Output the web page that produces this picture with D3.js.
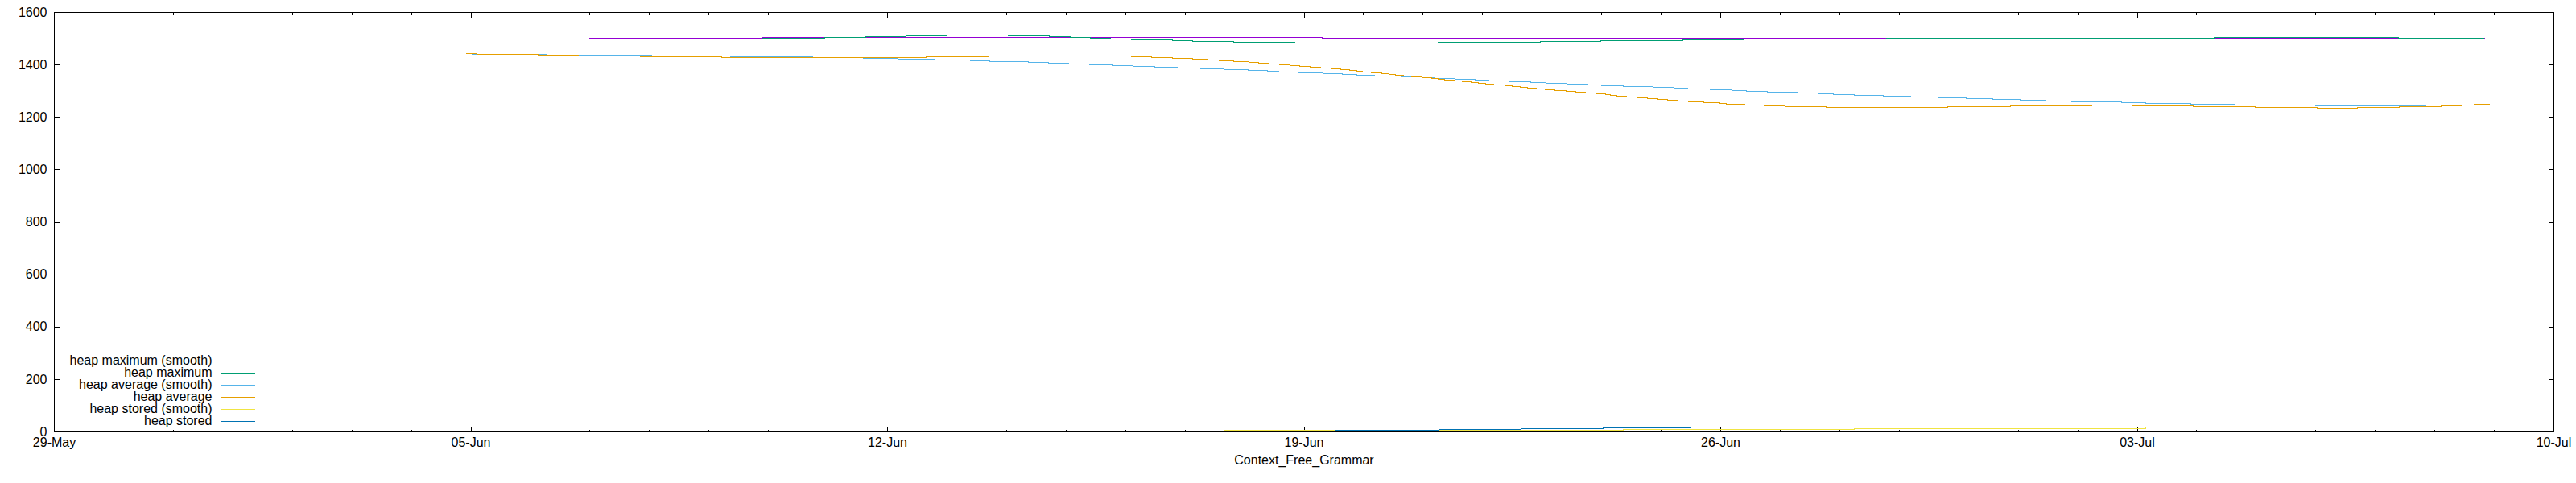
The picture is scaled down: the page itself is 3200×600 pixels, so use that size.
<!DOCTYPE html>
<html>
<head>
<meta charset="utf-8">
<script src="https://cdn.jsdelivr.net/npm/d3@7"></script>
<style>
  body { margin: 0; background: #fff; }
  svg { display: block; }
  text { font-family: "Liberation Sans", Arial, sans-serif; font-size: 16px; fill: #000; }
</style>
</head>
<body>
<svg id="chart" width="3200" height="600"></svg>
<script>
// ---------------- data ----------------
const chartTitle = "Context_Free_Grammar";
const startDate = "2020-05-29";            // day 0 of the x values below
const xTickDates = ["2020-05-29", "2020-06-05", "2020-06-12", "2020-06-19", "2020-06-26", "2020-07-03", "2020-07-10"];
const yTicks = [0, 200, 400, 600, 800, 1000, 1200, 1400, 1600];

const seriesNames = ["heap maximum (smooth)", "heap maximum", "heap average (smooth)", "heap average", "heap stored (smooth)", "heap stored"];
const seriesColors = ["#9400d3", "#009e73", "#56b4e9", "#e69f00", "#f0e442", "#0072b2"];

// [days since startDate, value]
const heapMaximumSmooth = [[6.92,1498.7],[8.99,1501.7],[11.91,1504.8],[21.30,1501.7],[40.85,1501.7]];

const heapMaximum = [[6.92,1498.7],[11.91,1501.7],[12.94,1504.8],[13.63,1507.9],[14.31,1510.9],[15.00,1514.0],
  [16.03,1510.9],[16.72,1507.9],[17.07,1504.8],[17.41,1501.7],[17.75,1498.7],[18.10,1495.6],[18.79,1492.5],
  [19.12,1489.4],[19.81,1486.4],[20.84,1483.3],[23.25,1486.4],[24.97,1489.4],[25.99,1492.5],[27.36,1495.6],
  [28.38,1498.7],[30.79,1501.7],[36.29,1504.8],[39.39,1501.7],[40.82,1498.7],[40.97,1498.7]];

const heapAverageSmooth = [[7.02,1440.3],[8.26,1437.2],[10.04,1434.2],[11.36,1431.1],[12.74,1428.0],[13.60,1424.9],
  [14.18,1421.9],[14.78,1418.8],[15.39,1415.7],[15.72,1412.7],[16.37,1409.6],[16.71,1406.5],[17.04,1403.5],
  [17.40,1400.4],[17.77,1397.3],[18.13,1394.2],[18.49,1391.2],[18.87,1388.1],[19.26,1385.0],[19.65,1382.0],
  [20.06,1378.9],[20.38,1375.8],[20.58,1372.7],[20.90,1369.7],[21.32,1366.6],[21.64,1363.5],[21.89,1360.5],
  [22.19,1357.4],[22.63,1354.3],[22.98,1351.2],[23.20,1348.2],[23.54,1345.1],[23.88,1342.0],[24.11,1339.0],
  [24.46,1335.9],[24.81,1332.8],[25.07,1329.8],[25.41,1326.7],[25.77,1323.6],[26.00,1320.5],[26.37,1317.5],
  [26.86,1314.4],[27.21,1311.3],[27.45,1308.3],[27.82,1305.2],[28.19,1302.1],[28.43,1299.0],[28.79,1296.0],
  [29.28,1292.9],[29.65,1289.8],[29.89,1286.8],[30.24,1283.7],[30.73,1280.6],[31.19,1277.5],[31.66,1274.5],
  [32.13,1271.4],[32.57,1268.3],[33.03,1265.3],[33.46,1262.2],[33.90,1259.1],[34.74,1256.0],[35.14,1253.0],
  [35.90,1249.9],[36.65,1246.8],[37.99,1243.8],[39.85,1246.8],[40.66,1249.9],[40.92,1249.9]];

const heapAverage = [[6.92,1443.4],[7.10,1440.3],[8.13,1437.2],[8.80,1434.2],[9.85,1431.1],[11.22,1428.0],
  [14.65,1431.1],[15.69,1434.2],[18.10,1431.1],[18.44,1428.0],[18.79,1424.9],[19.12,1421.9],[19.39,1418.8],
  [19.57,1415.7],[19.81,1412.7],[20.07,1409.6],[20.24,1406.5],[20.41,1403.5],[20.59,1400.4],[20.76,1397.3],
  [20.93,1394.2],[21.10,1391.2],[21.28,1388.1],[21.45,1385.0],[21.62,1382.0],[21.77,1378.9],[21.88,1375.8],
  [21.98,1372.7],[22.13,1369.7],[22.30,1366.6],[22.43,1363.5],[22.53,1360.5],[22.67,1357.4],[22.81,1354.3],
  [22.98,1351.2],[23.14,1348.2],[23.25,1345.1],[23.36,1342.0],[23.52,1339.0],[23.66,1335.9],[23.81,1332.8],
  [23.93,1329.8],[24.05,1326.7],[24.19,1323.6],[24.37,1320.5],[24.50,1317.5],[24.63,1314.4],[24.75,1311.3],
  [24.90,1308.3],[25.05,1305.2],[25.22,1302.1],[25.40,1299.0],[25.56,1296.0],[25.73,1292.9],[25.91,1289.8],
  [26.06,1286.8],[26.15,1283.7],[26.25,1280.6],[26.42,1277.5],[26.60,1274.5],[26.77,1271.4],[26.94,1268.3],
  [27.11,1265.3],[27.27,1262.2],[27.46,1259.1],[27.71,1256.0],[27.99,1253.0],[28.10,1249.9],[28.40,1246.8],
  [28.73,1243.8],[29.08,1240.7],[29.77,1237.6],[31.82,1240.7],[32.87,1243.8],[34.23,1246.8],[34.92,1243.8],
  [35.94,1240.7],[36.98,1237.6],[38.02,1234.5],[38.70,1237.6],[39.40,1240.7],[40.10,1243.8],[40.44,1246.8],
  [40.66,1249.9],[40.92,1249.9]];

const heapStoredSmooth = [[15.39,3.1],[19.67,6.1],[26.37,9.2],[30.25,12.3],[35.14,18.4],[40.92,18.4]];

const heapStored = [[19.82,3.1],[21.54,6.1],[23.27,9.2],[24.64,12.3],[26.02,15.4],[27.50,18.4],[40.92,18.4]];

const seriesData = [heapMaximumSmooth, heapMaximum, heapAverageSmooth, heapAverage, heapStoredSmooth, heapStored];

// ---------------- drawing ----------------
const parseDate = d3.utcParse("%Y-%m-%d");
const t0 = parseDate(startDate).getTime();
const toDate = d => new Date(t0 + d * 864e5);

const svg = d3.select("#chart");
const x = d3.scaleUtc()
  .domain([parseDate(xTickDates[0]), parseDate(xTickDates[xTickDates.length - 1])])
  .range([67.5, 3172.5]);
const y = d3.scaleLinear().domain([0, 1600]).range([536.5, 15.5]);

const majorDates = xTickDates.map(parseDate);
const minorDates = d3.utcDay.range(x.domain()[0], d3.utcDay.offset(x.domain()[1], 1));
const fmt = d3.utcFormat("%d-%b");

function styleAxis(g) {
  g.attr("font-size", 16).attr("font-family", "Liberation Sans, Arial, sans-serif");
  g.select(".domain").remove();
  g.selectAll("line").attr("shape-rendering", "crispEdges");
  g.selectAll("text").attr("fill", "#000");
}

const axes = svg.append("g");
// bottom
axes.append("g").attr("transform", `translate(0,${y(0)})`)
  .call(d3.axisBottom(x).tickValues(minorDates).tickSize(-3).tickFormat("").offset(0)).call(styleAxis);
axes.append("g").attr("transform", `translate(0,${y(0)})`)
  .call(d3.axisBottom(x).tickValues(majorDates).tickSizeInner(-6).tickSizeOuter(0).tickPadding(7).tickFormat(fmt).offset(0))
  .call(styleAxis);
// top (mirror)
axes.append("g").attr("transform", `translate(0,${y(1600)})`)
  .call(d3.axisTop(x).tickValues(minorDates).tickSize(-3).tickFormat("").offset(0)).call(styleAxis);
axes.append("g").attr("transform", `translate(0,${y(1600)})`)
  .call(d3.axisTop(x).tickValues(majorDates).tickSize(-6).tickFormat("").offset(0)).call(styleAxis);
// left
axes.append("g").attr("transform", `translate(${x.range()[0]},0)`)
  .call(d3.axisLeft(y).tickValues(yTicks).tickSizeInner(-6).tickSizeOuter(0).tickPadding(9).tickFormat(d3.format("d")).offset(0))
  .call(styleAxis);
// right (mirror)
axes.append("g").attr("transform", `translate(${x.range()[1]},0)`)
  .call(d3.axisRight(y).tickValues(yTicks).tickSize(-6).tickFormat("").offset(0)).call(styleAxis);

// frame
svg.append("rect")
  .attr("x", x.range()[0]).attr("y", y(1600))
  .attr("width", x.range()[1] - x.range()[0]).attr("height", y(0) - y(1600))
  .attr("fill", "none").attr("stroke", "#000").attr("stroke-width", 1)
  .attr("shape-rendering", "crispEdges");

// series
const line = d3.line()
  .x(d => x(toDate(d[0])))
  .y(d => y(d[1]))
  .curve(d3.curveStepAfter);

svg.append("g").selectAll("path")
  .data(seriesData)
  .join("path")
  .attr("d", line)
  .attr("fill", "none")
  .attr("stroke", (d, i) => seriesColors[i])
  .attr("stroke-width", 1)
  .attr("shape-rendering", "crispEdges");

// legend
const legend = svg.append("g");
const legendRow = i => 448.5 + i * 15;
legend.selectAll("text")
  .data(seriesNames)
  .join("text")
  .attr("x", 263.5)
  .attr("y", (d, i) => legendRow(i) + 4.5)
  .attr("text-anchor", "end")
  .text(d => d);
legend.selectAll("line")
  .data(seriesNames)
  .join("line")
  .attr("x1", 274).attr("x2", 317)
  .attr("y1", (d, i) => legendRow(i)).attr("y2", (d, i) => legendRow(i))
  .attr("stroke", (d, i) => seriesColors[i])
  .attr("stroke-width", 1)
  .attr("shape-rendering", "crispEdges");

// title
svg.append("text")
  .attr("x", (x.range()[0] + x.range()[1]) / 2)
  .attr("y", 577)
  .attr("text-anchor", "middle")
  .text(chartTitle);
</script>
</body>
</html>
